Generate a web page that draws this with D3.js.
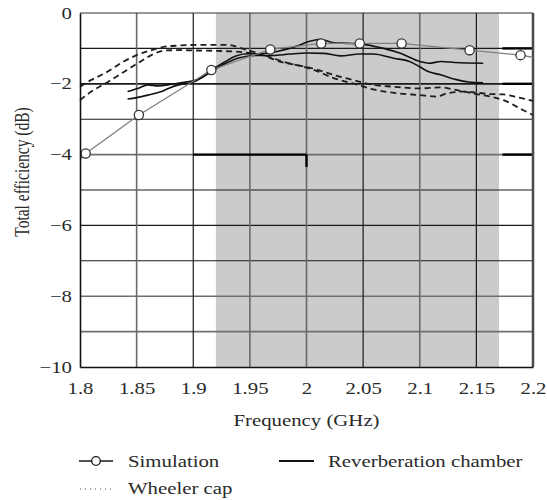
<!DOCTYPE html>
<html>
<head>
<meta charset="utf-8">
<script src="https://cdn.jsdelivr.net/npm/d3@7"></script>
<style>
  html, body { margin: 0; padding: 0; background: #fff; }
  svg { display: block; }
  text { font-family: "Liberation Serif", "Times New Roman", serif; fill: #2a2a2a; }
</style>
</head>
<body>
<svg id="chart" width="547" height="500"></svg>
<script>
// ---------------- data ----------------
const freqTicks = [1.8, 1.85, 1.9, 1.95, 2.0, 2.05, 2.1, 2.15, 2.2];
const freqTickLabels = ["1.8", "1.85", "1.9", "1.95", "2", "2.05", "2.1", "2.15", "2.2"];
const dbTicks = [0, -2, -4, -6, -8, -10];
const dbTickLabels = ["0", "\u22122", "\u22124", "\u22126", "\u22128", "\u221210"];
const dbGrid = [-1, -2, -3, -4, -5, -6, -7, -8, -9];
const freqGrid = [1.85, 1.9, 1.95, 2.0, 2.05, 2.1, 2.15];
const shadedBand = [1.92, 2.17];

// Simulation (thin gray line, circle markers at interior points)
const simFreq = [1.8, 1.805, 1.852, 1.916, 1.968, 2.013, 2.047, 2.084, 2.144, 2.189, 2.2];
const simDb   = [-4.15, -3.97, -2.88, -1.61, -1.03, -0.86, -0.86, -0.86, -1.05, -1.19, -1.25];

// Reverberation chamber (two solid curves)
const reverbAFreq = [1.842, 1.851, 1.860, 1.869, 1.881, 1.892, 1.904, 1.915, 1.927, 1.937, 1.948, 1.960, 1.975, 1.990, 2.003, 2.012, 2.024, 2.040, 2.053, 2.068, 2.083, 2.100, 2.108, 2.119, 2.131, 2.156];
const reverbADb   = [-2.22, -2.13, -2.03, -2.06, -2.01, -1.96, -1.87, -1.62, -1.40, -1.22, -1.15, -1.15, -1.08, -0.95, -0.80, -0.74, -0.84, -0.86, -0.90, -1.00, -1.14, -1.37, -1.42, -1.37, -1.40, -1.42];
const reverbBFreq = [1.842, 1.850, 1.860, 1.872, 1.878, 1.887, 1.898, 1.904, 1.915, 1.927, 1.940, 1.955, 1.970, 1.985, 2.000, 2.015, 2.030, 2.047, 2.059, 2.077, 2.091, 2.100, 2.108, 2.119, 2.131, 2.143, 2.156];
const reverbBDb   = [-2.43, -2.39, -2.32, -2.22, -2.13, -2.03, -1.97, -1.89, -1.68, -1.45, -1.27, -1.20, -1.20, -1.16, -1.13, -1.14, -1.21, -1.16, -1.16, -1.28, -1.37, -1.52, -1.66, -1.75, -1.87, -1.95, -1.97];

// Wheeler cap (two dashed curves)
const wheelerAFreq = [1.8, 1.81, 1.822, 1.836, 1.85, 1.863, 1.875, 1.887, 1.904, 1.93, 1.945, 1.96, 1.975, 1.99, 2.006, 2.024, 2.041, 2.059, 2.076, 2.1, 2.118, 2.133, 2.147, 2.162, 2.174, 2.191, 2.2];
const wheelerADb   = [-2.08, -1.89, -1.70, -1.42, -1.19, -1.05, -0.95, -0.92, -0.90, -0.90, -1.02, -1.17, -1.36, -1.46, -1.57, -1.75, -1.89, -2.03, -2.08, -2.13, -2.10, -2.18, -2.27, -2.36, -2.46, -2.74, -2.88];
const wheelerBFreq = [1.8, 1.81, 1.825, 1.839, 1.851, 1.863, 1.875, 1.887, 1.904, 1.93, 1.95, 1.965, 1.98, 1.995, 2.006, 2.024, 2.041, 2.059, 2.076, 2.1, 2.115, 2.124, 2.139, 2.15, 2.162, 2.174, 2.186, 2.2];
const wheelerBDb   = [-2.46, -2.22, -1.94, -1.66, -1.42, -1.19, -1.06, -1.05, -1.06, -1.08, -1.13, -1.22, -1.38, -1.50, -1.60, -1.84, -1.99, -2.16, -2.25, -2.32, -2.36, -2.27, -2.22, -2.25, -2.29, -2.30, -2.38, -2.48];

const legendLabels = ["Simulation", "Reverberation chamber", "Wheeler cap"];
const xTitle = "Frequency (GHz)";
const yTitle = "Total efficiency (dB)";

// ---------------- drawing ----------------
const SX = 1.3;        // horizontal stretch of the lettering
const FS = 16;
const svg = d3.select("#chart");
const x = d3.scaleLinear().domain([1.8, 2.2]).range([80, 533]);
const y = d3.scaleLinear().domain([-10, 0]).range([367, 13]);

// shaded band
svg.append("rect")
  .attr("x", x(shadedBand[0])).attr("y", y(0))
  .attr("width", x(shadedBand[1]) - x(shadedBand[0]))
  .attr("height", y(-10) - y(0))
  .attr("fill", "#cbcbcb");

// grid
const darkH = new Set([-1, -2, -3, -5, -6, -7]);
svg.append("g").selectAll("line").data(dbGrid).join("line")
  .attr("x1", x(1.8)).attr("x2", x(2.2))
  .attr("y1", d => y(d)).attr("y2", d => y(d))
  .attr("stroke", d => darkH.has(d) ? "#1a1a1a" : "#6e6e6e")
  .attr("stroke-width", d => d === -2 ? 1.8 : (darkH.has(d) ? 1.1 : 1.6));
const darkV = new Set([1.9, 2.05, 2.15]);
svg.append("g").selectAll("line").data(freqGrid).join("line")
  .attr("x1", d => x(d)).attr("x2", d => x(d))
  .attr("y1", y(0)).attr("y2", y(-10))
  .attr("stroke", d => darkV.has(d) ? "#1a1a1a" : "#6a6a6a")
  .attr("stroke-width", d => darkV.has(d) ? 1.2 : 1.6);

// heavier grid segments visible in the reference
const heavy = [
  [[1.9, -4], [2.0, -4]],
  [[2.0, -4], [2.0, -4.35]],
  [[2.173, -1], [2.2, -1]],
  [[2.173, -2], [2.2, -2]],
  [[2.173, -4], [2.2, -4]]
];
svg.append("g").selectAll("line").data(heavy).join("line")
  .attr("x1", d => x(d[0][0])).attr("y1", d => y(d[0][1]))
  .attr("x2", d => x(d[1][0])).attr("y2", d => y(d[1][1]))
  .attr("stroke", "#000").attr("stroke-width", 2.4);

// frame
svg.append("line").attr("x1", x(2.2)).attr("x2", x(2.2)).attr("y1", y(0)).attr("y2", y(-10))
  .attr("stroke", "#4a4a4a").attr("stroke-width", 2.5);
svg.append("line").attr("x1", x(1.8)).attr("x2", x(2.2)).attr("y1", y(0)).attr("y2", y(0))
  .attr("stroke", "#333").attr("stroke-width", 1.2);

const zip = (xs, ys) => xs.map((f, i) => [f, ys[i]]);
const line = d3.line().x(d => x(d[0])).y(d => y(d[1])).curve(d3.curveMonotoneX);
const lineLin = d3.line().x(d => x(d[0])).y(d => y(d[1]));

// Wheeler cap
[zip(wheelerAFreq, wheelerADb), zip(wheelerBFreq, wheelerBDb)].forEach(s => {
  svg.append("path").attr("d", line(s)).attr("fill", "none")
    .attr("stroke", "#1e1e1e").attr("stroke-width", 1.8)
    .attr("stroke-dasharray", "6,4");
});
// Reverberation chamber
[zip(reverbAFreq, reverbADb), zip(reverbBFreq, reverbBDb)].forEach(s => {
  svg.append("path").attr("d", line(s)).attr("fill", "none")
    .attr("stroke", "#111").attr("stroke-width", 1.6);
});
// Simulation
const sim = zip(simFreq, simDb);
svg.append("path").attr("d", lineLin(sim)).attr("fill", "none")
  .attr("stroke", "#808080").attr("stroke-width", 1.3);
svg.append("g").selectAll("circle").data(sim.slice(1, -1)).join("circle")
  .attr("cx", d => x(d[0])).attr("cy", d => y(d[1])).attr("r", 4.6)
  .attr("fill", "#fff").attr("stroke", "#333").attr("stroke-width", 1.3);

// left & bottom axes
const xAxis = d3.axisBottom(x).tickValues(freqTicks)
  .tickFormat((d, i) => freqTickLabels[i]).tickSize(0).tickPadding(16);
const gx = svg.append("g").attr("transform", `translate(0,${y(-10)})`).call(xAxis);
gx.select(".domain").attr("stroke", "#111").attr("stroke-width", 1.6);
gx.selectAll("text").attr("font-size", FS).attr("font-family", "Liberation Serif")
  .attr("fill", "#2a2a2a").attr("transform", `scale(${SX},1)`);

const yAxis = d3.axisLeft(y).tickValues(dbTicks)
  .tickFormat((d, i) => dbTickLabels[i]).tickSize(0).tickPadding(0);
const gy = svg.append("g").attr("transform", `translate(${x(1.8)},0)`).call(yAxis);
gy.select(".domain").attr("stroke", "#111").attr("stroke-width", 1.6);
gy.selectAll("text").attr("font-size", FS).attr("font-family", "Liberation Serif")
  .attr("fill", "#2a2a2a").attr("x", -8 / SX).attr("transform", `scale(${SX},1)`);

// titles
function stretchedText(px, py, str, anchor, rotate) {
  const g = svg.append("g").attr("transform",
    `translate(${px},${py}) scale(${SX},1)` + (rotate ? " rotate(-90)" : ""));
  return g.append("text").attr("text-anchor", anchor).attr("font-size", FS).text(str);
}
stretchedText((x(1.8) + x(2.2)) / 2, 426, xTitle, "middle", false);
stretchedText(29, 172, yTitle, "middle", true).attr("font-size", 15.5);

// legend
const lg = svg.append("g");
lg.append("line").attr("x1", 79).attr("x2", 113).attr("y1", 461).attr("y2", 461)
  .attr("stroke", "#1a1a1a").attr("stroke-width", 1.5);
lg.append("circle").attr("cx", 96).attr("cy", 461).attr("r", 4.3)
  .attr("fill", "#fff").attr("stroke", "#1a1a1a").attr("stroke-width", 1.3);
stretchedText(128, 467, legendLabels[0], "start", false);
lg.append("line").attr("x1", 279).attr("x2", 314).attr("y1", 461).attr("y2", 461)
  .attr("stroke", "#111").attr("stroke-width", 1.8);
stretchedText(328, 467, legendLabels[1], "start", false);
lg.append("line").attr("x1", 80).attr("x2", 113).attr("y1", 489).attr("y2", 489)
  .attr("stroke", "#555").attr("stroke-width", 1.2).attr("stroke-dasharray", "1,4");
stretchedText(128, 494, legendLabels[2], "start", false);
</script>
</body>
</html>
